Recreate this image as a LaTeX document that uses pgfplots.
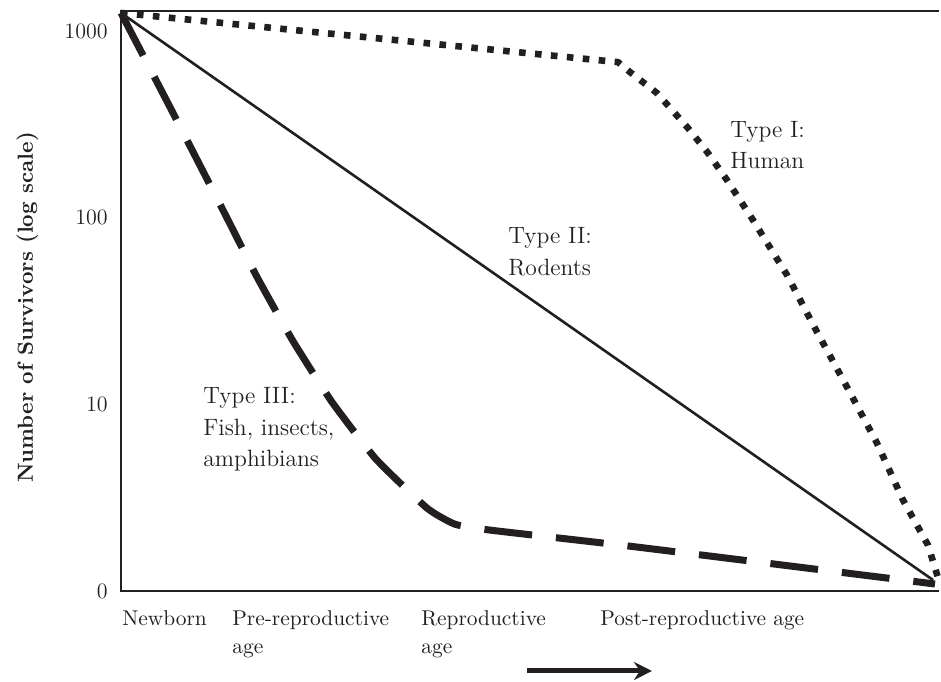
\documentclass[border=0pt]{standalone}
\usepackage{pgfplots}
\pgfplotsset{compat=1.18}
\usetikzlibrary{arrows.meta}
\definecolor{ink}{RGB}{35,31,32}
\pgfplotstableread{
x y
0 1250
0.6076 681.5
0.6222 602.6
0.6553 464.9
0.6932 301.9
0.7176 221.8
0.7408 159.0
0.7726 97.1
0.8142 49.3
0.8509 24.4
0.8875 12.38
0.9242 6.20
0.9560 3.07
0.9866 1.76
0.9990 1.17
}\typeI
\pgfplotstableread{
x y
0 1250
0.9927 1.145
}\typeII
\pgfplotstableread{
x y
0 1250
0.0599 391
0.1284 102.0
0.1663 48.1
0.2103 21.8
0.2579 10.29
0.3117 5.09
0.3741 2.78
0.4083 2.28
0.4511 2.12
0.6308 1.72
0.9951 1.09
}\typeIII
\begin{document}
\begin{tikzpicture}
\path[use as bounding box] (-60.5pt,-45pt) rectangle (410pt,295.5pt);
\begin{axis}[
  scale only axis, width=409pt, height=290pt,
  xmin=0, xmax=1, ymode=log, ymin=1, ymax=1280,
  clip=false,
  axis line style={draw=none},
  tick style={draw=none}, major tick length=0pt, minor tick length=0pt,
  yminorticks=false,
  ytick={1,10,100,1000}, yticklabels={0,10,100,1000},
  yticklabel style={anchor=east, inner sep=0pt, xshift=-6.5pt, text=ink, font=\fontsize{11}{13}\selectfont},
  xtick={0.0012,0.1357,0.3667,0.5856},
  xticklabels={Newborn,{Pre-reproductive\\age},{Reproductive\\age},{Post-reproductive age}},
  xticklabel style={anchor=north west, align=left, inner sep=0pt, yshift=-9.5pt, text=ink, font=\fontsize{10.7}{14}\selectfont},
]
\addplot[ink, line width=3.3pt, dash pattern=on 3.3pt off 4.7pt, line join=round] table {\typeI};
\addplot[ink, line width=1.3pt] table {\typeII};
\addplot[ink, line width=3.5pt, dash pattern=on 24pt off 12pt, smooth, tension=0.3, line join=round] table {\typeIII};
\draw[ink, line width=1.25pt] (rel axis cs:1,1) -- (rel axis cs:0,1) -- (rel axis cs:0,0) -- (rel axis cs:1,0);
\node[anchor=north west, align=left, inner sep=0pt, text=ink, font=\fontsize{11.8}{15.5}\selectfont] at (rel axis cs:0.7445,0.8103) {Type I:\\Human};
\node[anchor=north west, align=left, inner sep=0pt, text=ink, font=\fontsize{11.8}{16}\selectfont] at (rel axis cs:0.4731,0.6276) {Type II:\\Rodents};
\node[anchor=north west, align=left, inner sep=0pt, text=ink, font=\fontsize{11.8}{15.75}\selectfont] at (rel axis cs:0.1002,0.3517) {Type III:\\Fish, insects,\\amphibians};
\node[rotate=90, anchor=base, text=ink, font=\fontsize{10.9}{13}\selectfont\bfseries] at ([xshift=-44pt]rel axis cs:0,0.4888) {Number of Survivors (log scale)};
\draw[ink, line width=2.5pt, -{Stealth[length=9pt,width=9pt,inset=3pt]}] (rel axis cs:0.4963,-0.1379) -- (rel axis cs:0.6491,-0.1379);
\end{axis}
\end{tikzpicture}
\end{document}
